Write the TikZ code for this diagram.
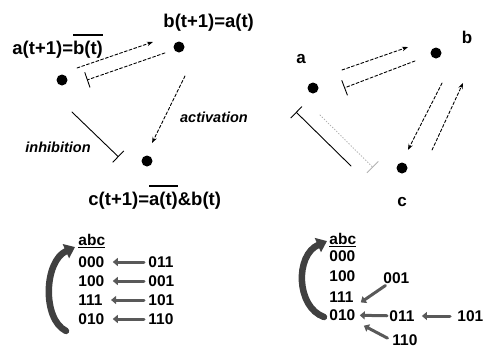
\documentclass[tikz,border=0pt]{standalone}
\usepackage{fontspec}
\setmainfont{Liberation Sans}
\usetikzlibrary{arrows.meta,calc}
\newcommand{\nbar}[1]{\vbox{\hrule height 1.4pt\kern 5pt\hbox{#1}}}

\begin{document}
\begin{tikzpicture}[x=1pt,y=-1pt,line cap=round,line width=0.9pt,
  dot/.style={circle,fill,inner sep=0pt,minimum size=11pt},
  eqn/.style={font=\fontsize{18.5}{20}\selectfont\bfseries,inner sep=0pt,anchor=base west},
  gene/.style={font=\fontsize{17}{19}\selectfont\bfseries,inner sep=0pt,anchor=base},
  edgelab/.style={font=\fontsize{14.5}{16}\selectfont\bfseries\itshape,inner sep=0pt},
  state/.style={font=\fontsize{15.5}{17}\selectfont\bfseries,inner sep=1pt,anchor=west},
  act/.style={densely dashed,-{Stealth[length=6pt,width=4.5pt]}},
  inh/.style={-{Bar[width=16pt,line width=0.9pt]}},
  tabarr/.style={line width=3pt,black!65,-{Triangle[length=5pt,width=8pt]}},
  loopback/.style={line width=6.5pt,black!75,-{Triangle[length=10pt,width=15pt]}}]
\useasboundingbox (0,0) rectangle (484,349);
% left network with update rules
\node[dot] (a) at (62,80) {};
\node[dot] (b) at (179,47) {};
\node[dot] (c) at (147,161) {};
\node[eqn] (ruleA) at (12,54) {a(t+1)=\nbar{b(t)}};
\node[eqn] (ruleB) at (163,27) {b(t+1)=a(t)};
\node[eqn] (ruleC) at (88,205) {c(t+1)=\nbar{a(t)}\&b(t)};
\node[edgelab] (lact) at (214,117) {activation};
\node[edgelab] (linh) at (58,147) {inhibition};
\draw[act] ($(a)!17.7pt!(b)!7.5pt!90:(b)$) -- ($(a)!97.8pt!(b)!11.9pt!90:(b)$);
\draw[inh,densely dashed] ($(a)!106.4pt!(b)!1.9pt!-90:(b)$) -- ($(a)!24pt!(b)!6.8pt!-90:(b)$);
\draw[act] ($(b)!26.3pt!(c)!13.6pt!90:(c)$) -- ($(b)!99.7pt!(c)$);
\draw[inh] ($(a)!29.3pt!(c)!16.3pt!-90:(c)$) -- ($(a)!94pt!(c)!16.7pt!-90:(c)$);
% right network
\node[dot] (ra) at (313,88) {};
\node[dot] (rb) at (436,53) {};
\node[dot] (rc) at (402,168) {};
\node[gene] (laba) at (301,63) {a};
\node[gene] (labb) at (467,43) {b};
\node[gene] (labc) at (402,206) {c};
\draw[act] ($(ra)!32.8pt!(rb)!9.4pt!90:(rb)$) -- ($(ra)!102.6pt!(rb)!13.4pt!90:(rb)$);
\draw[inh,densely dashed] ($(ra)!105.5pt!(rb)!1.9pt!-90:(rb)$) -- ($(ra)!30pt!(rb)!8.5pt!-90:(rb)$);
\draw[act] ($(rb)!27.1pt!(rc)!14.3pt!90:(rc)$) -- ($(rb)!100.9pt!(rc)!0.6pt!90:(rc)$);
\draw[act] ($(rb)!94.1pt!(rc)!23.7pt!90:(rc)$) -- ($(rb)!21.1pt!(rc)!34.4pt!90:(rc)$);
\draw[inh] ($(ra)!80.4pt!(rc)!32.6pt!-90:(rc)$) -- ($(ra)!3.4pt!(rc)!29.2pt!-90:(rc)$);
\draw[inh,dotted,gray!60] ($(ra)!23.2pt!(rc)!15.4pt!-90:(rc)$) -- ($(ra)!97.7pt!(rc)!19pt!-90:(rc)$);
% left state table
\node[state] (labcL) at (77,241) {\underline{abc}};
\node[state] (l000) at (77,262) {000};
\node[state] (l100) at (77,281) {100};
\node[state] (l111) at (77,300) {111};
\node[state] (l010) at (77,319) {010};
\node[state] (l011) at (147,262) {011};
\node[state] (l001) at (147,281) {001};
\node[state] (l101) at (147,300) {101};
\node[state] (l110) at (147,319) {110};
\draw[tabarr,shorten <=3pt,shorten >=7pt] (l011) -- (l000);
\draw[tabarr,shorten <=3pt,shorten >=7pt] (l001) -- (l100);
\draw[tabarr,shorten <=3pt,shorten >=7pt] (l101) -- (l111);
\draw[tabarr,shorten <=3pt,shorten >=7pt] (l110) -- (l010);
\draw[loopback] ([shift={(-11,5)}]l010.south west) .. controls +(-24,-12) and +(-31,14) .. ([shift={(-2,-8)}]l000.north west);
% right state table
\node[state] (rabc) at (328,240) {\underline{abc}};
\node[state] (r000) at (328,256) {000};
\node[state] (r100) at (328,276) {100};
\node[state] (r111) at (328,297) {111};
\node[state] (r010) at (328,315) {010};
\node[state] (r001) at (382,278) {001};
\node[state] (r011) at (388,316) {011};
\node[state] (r101) at (456,316) {101};
\node[state] (r110) at (391,340) {110};
\draw[tabarr,shorten <=1pt,shorten >=10pt] (r001) -- (r010);
\draw[tabarr,shorten <=1pt,shorten >=3pt] (r011) -- (r010);
\draw[tabarr,shorten <=6pt,shorten >=6pt] (r101) -- (r011);
\draw[tabarr,shorten <=4pt,shorten >=8pt] (r110.west) -- (r010.south east);
\draw[loopback] ([shift={(-4,2)}]r010.west) .. controls +(-28,-10) and +(-32,14) .. ([shift={(-1,-8)}]r000.north west);
\end{tikzpicture}
\end{document}
